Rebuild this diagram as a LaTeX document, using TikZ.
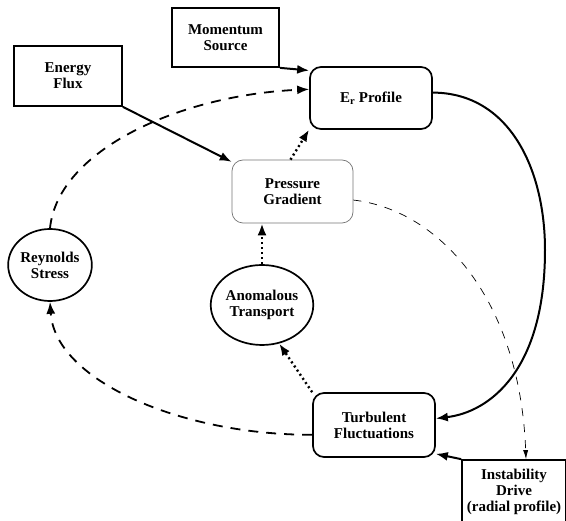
\documentclass[tikz,border=0pt]{standalone}
\usepackage{fontspec}
\setmainfont{Liberation Serif}
\usetikzlibrary{arrows.meta,shapes.geometric}

\begin{document}
\begin{tikzpicture}[x=1pt,y=-1pt,
  lbl/.style={font=\fontsize{15}{16}\selectfont\bfseries,align=center,inner sep=0pt},
  sqbox/.style={lbl,draw,line width=1.7pt,rectangle},
  rbox/.style={lbl,draw,line width=1.7pt,rectangle,rounded corners=11pt},
  oval/.style={lbl,draw,line width=1.7pt,ellipse},
  solidarr/.style={line width=2pt,-{Latex[length=12pt,width=9pt]}},
  dasharr/.style={line width=1.8pt,dash pattern=on 10pt off 8pt,-{Latex[length=12pt,width=9pt]}},
  thinarr/.style={line width=0.7pt,dash pattern=on 8pt off 8pt,-{Latex[length=9pt,width=5pt]}},
  dotarr/.style={line width=2.4pt,dash pattern=on 2pt off 3pt,-{Latex[length=12pt,width=9pt]}}]
\useasboundingbox (0,0) rectangle (566,521);
% boxes
\node[sqbox,minimum width=107pt,minimum height=59pt] (mom) at (225.5,37.5) {Momentum\\Source};
\node[sqbox,minimum width=108pt,minimum height=60pt] (flux) at (68,76) {Energy\\Flux};
\node[rbox,minimum width=122pt,minimum height=62pt] (er) at (371,98) {E\textsubscript{r} Profile};
\node[rbox,draw=black!55,line width=0.7pt,minimum width=121pt,minimum height=63pt] (pg) at (292.5,191.5) {Pressure\\Gradient};
\node[oval,minimum width=82pt,minimum height=72pt] (reyn) at (50,265) {Reynolds\\Stress};
\node[oval,minimum width=91pt,minimum height=80pt] (anom) at (262,305) {Anomalous\\Transport};
\node[rbox,minimum width=122pt,minimum height=64pt] (turb) at (374,425) {Turbulent\\Fluctuations};
\node[sqbox,minimum width=104pt,minimum height=64pt] (inst) at (514,492) {Instability\\Drive\\(radial profile)};
% connectors
\draw[solidarr] (mom.south east) -- (er.156);
\draw[solidarr] (flux.south east) -- (pg.154);
\draw[dasharr] (reyn.north) .. controls (58,150) and (180,95) .. (er.172);
\draw[dotarr] ([xshift=-2pt]pg.north) -- (er.207);
\draw[solidarr] (er.5) .. controls (510,93) and (545,170) .. (545,250)
  .. controls (545,370) and (490,412) .. (turb.6);
\draw[thinarr] (pg.-8) .. controls (440,210) and (520,300) .. ([xshift=12pt]inst.north);
\draw[dotarr] (anom.north) -- (anom.north |- pg.south);
\draw[dotarr] (turb.north west) -- (anom.-66);
\draw[dasharr] (turb.189) .. controls (180,435) and (55,380) .. (reyn.south);
\draw[solidarr] (inst.north west) -- (turb.-25);
\end{tikzpicture}
\end{document}
